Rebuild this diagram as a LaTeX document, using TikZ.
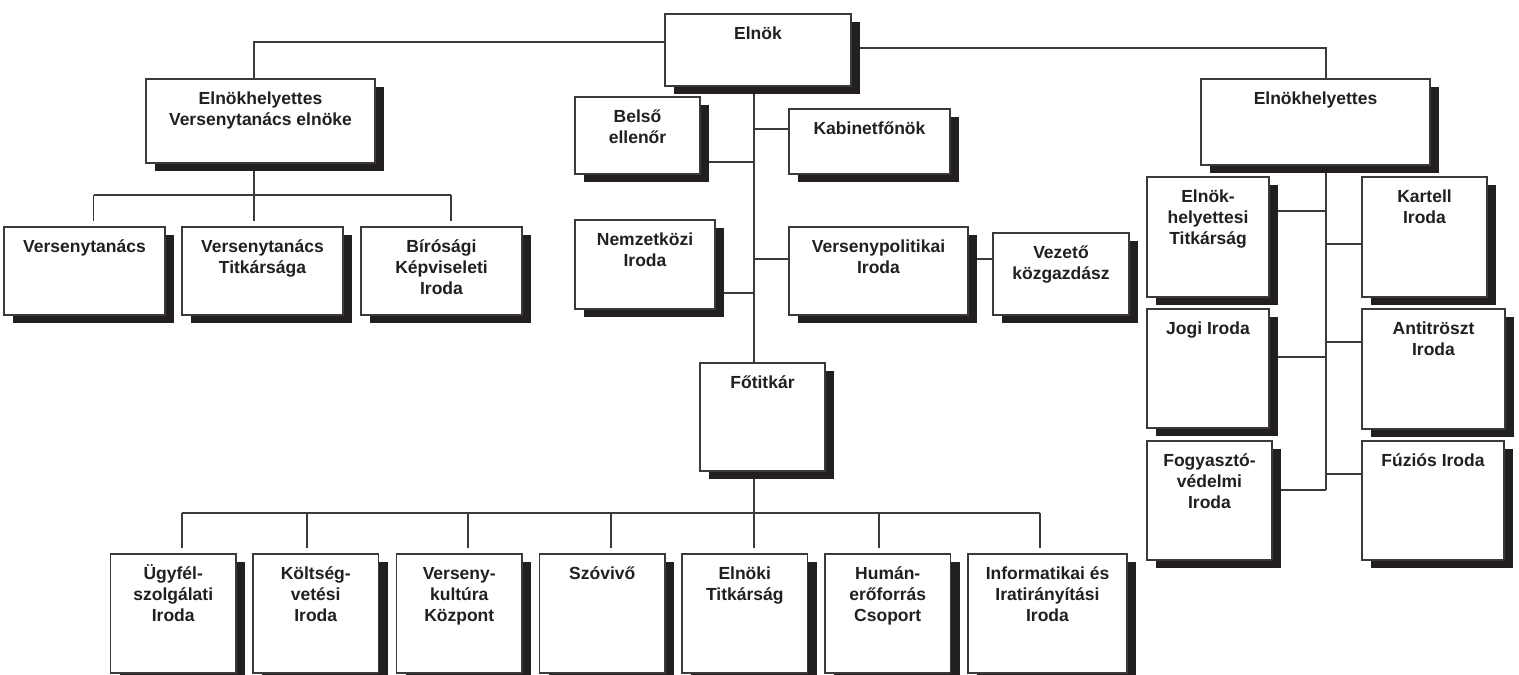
\documentclass[tikz,border=0pt]{standalone}
\usepackage{fontspec}
\setmainfont{Liberation Sans}
\usetikzlibrary{backgrounds,calc}
\definecolor{ink}{HTML}{231F20}
\definecolor{edgec}{HTML}{3A3A3A}
\newcommand{\bxt}[3]{\begin{minipage}[t][#2pt][t]{#1pt}\centering\fontsize{17.5}{21}\selectfont\bfseries\rule{0pt}{25pt}#3\end{minipage}}
\tikzset{
  box/.style={draw=edgec, line width=1.2pt, fill=white, inner sep=0pt, outer sep=0pt,
    anchor=north west, text=ink,
    preaction={fill=ink, transform canvas={xshift=9pt,yshift=-7.5pt}}},
  conn/.style={draw=edgec, line width=1.2pt},
}
\begin{document}
\begin{tikzpicture}[x=1pt,y=-1pt]
\useasboundingbox (0,0) rectangle (1519,675);
% boxes
\node[box] (elnok) at (665,14) {\bxt{186}{72}{Elnök}};
\node[box] (eve) at (146,79) {\bxt{229}{84}{Elnökhelyettes\\Versenytanács elnöke}};
\node[box] (vt) at (4,227) {\bxt{161}{88}{Versenytanács}};
\node[box] (vtt) at (182,227) {\bxt{161}{88}{Versenytanács\\Titkársága}};
\node[box] (bir) at (361,227) {\bxt{161}{88}{Bírósági\\Képviseleti\\Iroda}};
\node[box] (belso) at (575,97) {\bxt{125}{77}{Belső\\ellenőr}};
\node[box] (kab) at (789,109) {\bxt{161}{65}{Kabinetfőnök}};
\node[box] (nemz) at (575,220) {\bxt{140}{89}{Nemzetközi\\Iroda}};
\node[box] (vpol) at (789,227) {\bxt{179}{88}{Versenypolitikai\\Iroda}};
\node[box] (vez) at (993,233) {\bxt{136}{82}{Vezető\\közgazdász}};
\node[box] (elr) at (1201,79) {\bxt{229}{86}{Elnökhelyettes}};
\node[box] (eht) at (1147,177) {\bxt{122}{120}{Elnök-\\helyettesi\\Titkárság}};
\node[box] (kart) at (1362,177) {\bxt{125}{120}{Kartell\\Iroda}};
\node[box] (jogi) at (1147,309) {\bxt{122}{119}{Jogi Iroda}};
\node[box] (anti) at (1362,309) {\bxt{143}{120}{Antitröszt\\Iroda}};
\node[box] (fogy) at (1147,441) {\bxt{125}{119}{Fogyasztó-\\védelmi\\Iroda}};
\node[box] (fuz) at (1362,441) {\bxt{142}{119}{Fúziós Iroda}};
\node[box] (fot) at (700,363) {\bxt{125}{108}{Főtitkár}};
\node[box] (ugy) at (110.5,554) {\bxt{125.5}{119}{Ügyfél-\\szolgálati\\Iroda}};
\node[box] (kolt) at (253,554) {\bxt{125.5}{119}{Költség-\\vetési\\Iroda}};
\node[box] (vkul) at (396.5,554) {\bxt{125.5}{119}{Verseny-\\kultúra\\Központ}};
\node[box] (szov) at (539.5,554) {\bxt{125.5}{119}{Szóvivő}};
\node[box] (elt) at (682,554) {\bxt{125.5}{119}{Elnöki\\Titkárság}};
\node[box] (hum) at (825,554) {\bxt{125.5}{119}{Humán-\\erőforrás\\Csoport}};
\node[box] (info) at (968,554) {\bxt{159}{119}{Informatikai és\\Iratirányítási\\Iroda}};
% connectors
\begin{scope}[on background layer]
\fill[white] (0,0) rectangle (1519,675);
\coordinate (tA) at (254,42);
\coordinate (tB) at (1326,48);
\draw[conn] (elnok.west |- tA) -- (tA) -- (tA |- eve.north);
\draw[conn] (elnok.east |- tB) -- (tB) -- (tB |- elr.north);
% left subtree
\coordinate (eA) at (254,195);
\coordinate (eL) at (93.5,195);
\coordinate (eR) at (451,195);
\draw[conn] (eA |- eve.south) -- (eA);
\draw[conn] (eL) -- (eR);
\draw[conn,shorten >=6pt] (eL) -- (eL |- vt.north);
\draw[conn,shorten >=6pt] (eA) -- (eA |- vtt.north);
\draw[conn,shorten >=6pt] (eR) -- (eR |- bir.north);
% main trunk
\coordinate (tM) at (754,0);
\draw[conn] (tM |- elnok.south) -- (tM |- fot.north);
\coordinate (bBel) at (754,162);
\coordinate (bKab) at (754,129);
\coordinate (bNem) at (754,293);
\coordinate (bVp) at (754,259);
\draw[conn] (bBel) -- (bBel -| belso.east);
\draw[conn] (bKab) -- (bKab -| kab.west);
\draw[conn] (bNem) -- (bNem -| nemz.east);
\draw[conn] (bVp) -- (bVp -| vpol.west);
\draw[conn] (bVp -| vpol.east) -- (bVp -| vez.west);
% bottom subtree
\coordinate (fB) at (754,513);
\coordinate (fL) at (182,513);
\coordinate (fR) at (1040,513);
\draw[conn] (fB |- fot.south) -- (fB);
\draw[conn] (fL) -- (fR);
\foreach \x/\n in {182/ugy,307/kolt,468/vkul,611/szov,754/elt,879/hum,1040/info}
  \draw[conn,shorten >=6pt] (\x,513) -- (\x,513 |- \n.north);
% right subtree
\coordinate (rT) at (1326,490);
\draw[conn] (rT |- elr.south) -- (rT);
\coordinate (r1) at (1326,211);
\coordinate (r2) at (1326,244);
\coordinate (r3) at (1326,357);
\coordinate (r4) at (1326,342);
\coordinate (r5) at (1326,490);
\coordinate (r6) at (1326,474);
\draw[conn] (r1) -- (r1 -| eht.east);
\draw[conn] (r2) -- (r2 -| kart.west);
\draw[conn] (r3) -- (r3 -| jogi.east);
\draw[conn] (r4) -- (r4 -| anti.west);
\draw[conn] (r5) -- (r5 -| fogy.east);
\draw[conn] (r6) -- (r6 -| fuz.west);
\end{scope}
\end{tikzpicture}
\end{document}
